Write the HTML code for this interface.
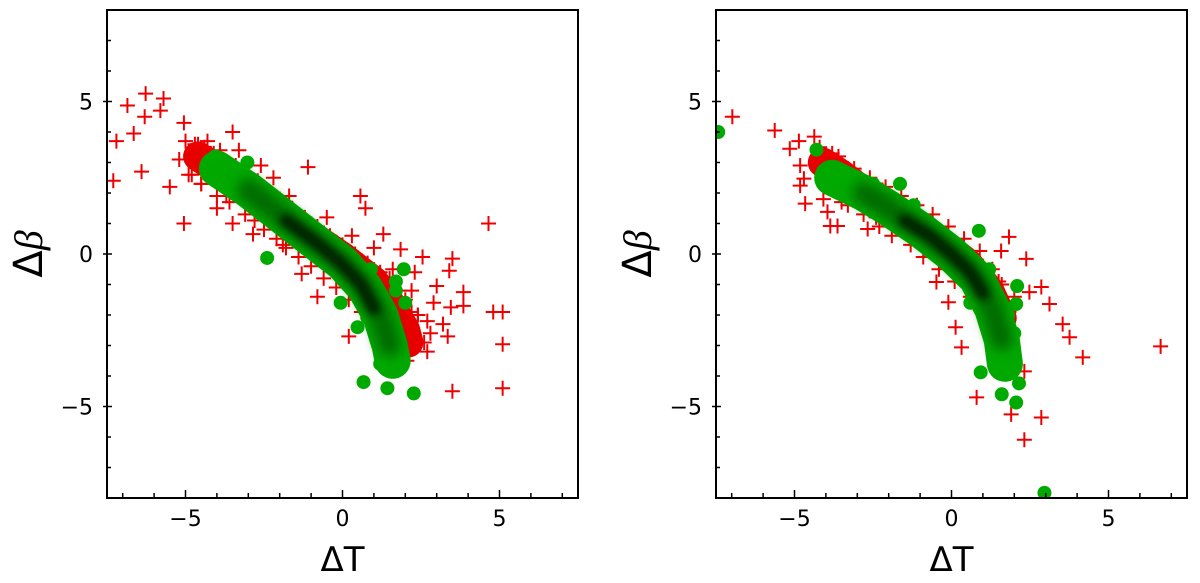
<!DOCTYPE html>
<html><head><meta charset="utf-8"><style>
html,body{margin:0;padding:0;background:#fff;}
svg{display:block;}
text{font-family:"DejaVu Sans","Liberation Sans",sans-serif;fill:#000;}
</style></head><body>
<svg id="chart" width="1200" height="583" viewBox="0 0 1200 583" xmlns="http://www.w3.org/2000/svg">
<defs>
<filter id="blur1" x="-20%" y="-20%" width="140%" height="140%"><feGaussianBlur stdDeviation="4"/></filter>
<filter id="blur2" x="-20%" y="-20%" width="140%" height="140%"><feGaussianBlur stdDeviation="6"/></filter>
</defs>
</svg>
<script>
// ---------- data: left panel ----------
const leftRedX=[-6.27,-6.85,-5.7,-5.8,-6.3,-7.2,-6.65,-7.3,-6.4,-5.05,-5.05,-3.5,-5.5,-1.1,0.57,0.73,4.65,3.5,3.4,3.85,3.85,4.8,5.1,5.1,5.1,3.5,2.7,3.35,2.8,0.2,-0.8,-1.3,3.0,3.45,2.55,1.3,1.85,2.05,-4.0,-3.5,-2.85,-4.6,-4.3,-3.9,-3.3,-2.6,-2.2,-1.7,-0.5,0.3,1.0,1.6,2.2,2.4,2.6,-5.2,-4.8,-4.5,-3.7,-1.9,2.3,1.8,3.2,-2.4,-3.2,-4.2,
 -5.0,-4.7,-4.4,-4.1,-3.8,-3.4,-3.0,-2.7,-2.3,-2.0,-1.6,-1.2,-0.8,-0.4,0.0,0.4,0.8,1.2,1.5,1.8,2.0,2.2,
 -4.9,-4.5,-4.0,-3.6,-3.1,-2.8,-2.5,-2.1,-1.8,-1.4,-1.0,-0.6,-0.2,0.2,0.6,0.9,1.1,1.3,1.6,1.9,2.1,2.4,2.7,2.9];
const leftRedY=[5.26,4.87,5.1,4.7,4.5,3.7,3.95,2.4,2.7,1.0,4.3,4.0,2.2,2.85,1.9,1.5,1.0,-0.15,-0.55,-1.25,-1.7,-1.9,-1.9,-2.96,-4.4,-4.5,-3.2,-2.7,-2.6,-2.7,-1.4,-0.65,-1.05,-1.75,-0.1,0.65,0.15,-3.5,1.5,1.0,0.65,3.6,3.7,3.4,3.4,2.9,2.5,1.9,1.2,0.6,0.2,-0.5,-1.2,-2.0,-2.9,3.1,2.6,2.3,1.9,0.3,-0.6,-2.2,-2.3,1.6,2.4,3.3,
 3.7,3.6,3.5,3.3,3.1,2.9,2.6,2.4,2.0,1.8,1.5,1.2,0.9,0.6,0.3,0.0,-0.3,-0.6,-0.8,-1.2,-1.5,-1.9,
 2.6,2.3,1.9,1.7,1.3,1.1,0.8,0.5,0.2,-0.1,-0.4,-0.8,-1.1,-1.5,-1.9,-2.2,-2.6,-2.9,-3.3,-3.0,-2.4,-2.0,-2.2,-1.6];
const leftGreenX=[-2.4,0.67,1.43,2.27,-0.06,1.95,0.48,-3.03,-4.05,1.7,1.5,1.2,-3.7,-2.8,-1.9,-1.1,-0.3,0.9,1.7,2.0,1.3,0.8];
const leftGreenY=[-0.13,-4.2,-4.4,-4.57,-1.6,-0.5,-2.4,3.0,3.2,-1.2,-3.2,-3.6,2.2,1.9,1.5,0.9,0.0,-0.5,-0.9,-1.6,-2.9,-2.1];
const leftRedBandX=[-4.6,-4,-3,-2,-1,0,1,1.5,2,2.1];
const leftRedBandY=[3.2,2.8,2.1,1.3,0.6,-0.1,-0.9,-1.6,-2.5,-2.9];
const leftGreenBandX=[-4.0,-3,-2,-1,0,0.7,1.2,1.5,1.6];
const leftGreenBandY=[2.8,2.1,1.3,0.5,-0.3,-1.1,-2.0,-3.0,-3.5];
const leftCoreX=[-1.8,-0.8,0,0.6,1.0];
const leftCoreY=[1.1,0.35,-0.35,-1.0,-1.8];
// ---------- data: right panel ----------
const rightRedX=[-6.98,-5.63,-5.15,-4.86,-4.37,-4.82,-4.7,-4.82,-4.66,-4.08,-3.95,-3.86,-3.63,-2.67,1.83,2.38,1.58,2.86,3.12,2.48,3.54,3.76,4.18,6.66,2.32,2.86,2.32,1.9,0.8,0.13,0.32,-0.1,-0.48,1.83,-4.2,-3.8,-3.3,-2.9,-2.2,-1.5,-0.8,0.2,1.0,1.5,2.0,-3.5,-2.4,
 -3.6,-3.1,-2.6,-2.1,-1.6,-1.1,-0.6,-0.1,0.4,0.9,1.3,1.6,-3.3,-2.8,-2.3,-1.9,-1.3,-0.9,-0.4,0.1,0.6];
const rightRedY=[4.5,4.05,3.45,3.7,3.85,2.9,2.47,2.24,1.65,1.8,1.38,0.92,0.92,0.82,0.56,-0.16,0.1,-1.08,-1.64,-1.25,-2.3,-2.73,-3.39,-3.03,-3.85,-5.36,-6.09,-5.26,-4.7,-2.4,-3.06,-1.58,-0.92,-1.9,3.5,3.3,2.8,2.5,2.1,1.6,0.9,0.3,-0.4,-0.9,-1.4,1.7,1.2,
 3.2,2.8,2.5,2.2,1.9,1.6,1.3,0.9,0.5,0.1,-0.5,-1.0,1.6,1.3,0.9,0.6,0.3,-0.1,-0.5,-0.9,-1.4];
const rightGreenX=[-7.43,2.96,-4.3,2.06,2.15,1.6,0.93,2.09,2.06,0.87,-1.64,-3.95,-3.4,-2.5,-1.2,0.2,1.2,1.8,1.5,0.6,2.0];
const rightGreenY=[4.0,-7.83,3.42,-4.87,-4.24,-4.6,-3.88,-1.05,-1.64,0.76,2.3,2.63,2.6,2.3,1.6,0.3,-0.5,-2.0,-3.3,-1.6,-2.6];
const rightRedBandX=[-4.1,-3.5,-2.5,-1.5,-0.5,0.5,1.2,1.6];
const rightRedBandY=[3.0,2.6,1.8,1.2,0.5,-0.3,-1.2,-2.1];
const rightGreenBandX=[-3.8,-2.8,-2,-1,0,0.8,1.3,1.6,1.7];
const rightGreenBandY=[2.5,2.0,1.5,0.8,0,-0.8,-1.8,-2.8,-3.6];
const rightCoreX=[-1.5,-0.7,0,0.6,1.0];
const rightCoreY=[1.1,0.6,0,-0.6,-1.3];
// ---------- axis config ----------
const xTicks=[-5,0,5];
const yTicks=[-5,0,5];
const xMin=-7.5,xMax=7.5,yMin=-8,yMax=8;

const NS="http://www.w3.org/2000/svg";
const svg=document.getElementById('chart');
function mk(tag,attrs,parent){const e=document.createElementNS(NS,tag);for(const k in attrs)e.setAttribute(k,attrs[k]);(parent||svg).appendChild(e);return e;}

function panel(name,L,R,T,B,redX,redY,grX,grY,rbX,rbY,gbX,gbY,cX,cY){
  const g=mk('g',{});
  
  
  const sx=v=>L+(v-xMin)/(xMax-xMin)*(R-L);
  const sy=v=>B-(v-yMin)/(yMax-yMin)*(B-T);
  const clip=mk('clipPath',{id:name+'-clip'},g);
  mk('rect',{x:L,y:T,width:R-L,height:B-T},clip);
  const plot=mk('g',{'clip-path':'url(#'+name+'-clip)'},g);
  const pts=(xs,ys)=>xs.map((x,i)=>sx(x).toFixed(1)+','+sy(ys[i]).toFixed(1)).join(' ');
  const rb=mk('polyline',{points:pts(rbX,rbY),fill:'none',stroke:'#e60000','stroke-width':30,'stroke-linecap':'round','stroke-linejoin':'round'},plot);
  
  
  redX.forEach((x,i)=>{
    const cx=sx(x),cy=sy(redY[i]);
    const p=mk('path',{d:`M${cx-7.5},${cy}H${cx+7.5}M${cx},${cy-7.5}V${cy+7.5}`,stroke:'#ee0000','stroke-width':2,fill:'none'},plot);
    
    
  });
  const gb=mk('polyline',{points:pts(gbX,gbY),fill:'none',stroke:'#00a800','stroke-width':36,'stroke-linecap':'round','stroke-linejoin':'round'},plot);
  
  
  grX.forEach((x,i)=>{
    const c=mk('circle',{cx:sx(x),cy:sy(grY[i]),r:7,fill:'#00aa00'},plot);
    
    
  });
  mk('polyline',{points:pts(gbX.slice(1,-1),gbY.slice(1,-1)),fill:'none',stroke:'#006a00','stroke-width':22,'stroke-linecap':'round','stroke-linejoin':'round',filter:'url(#blur2)'},plot);
  const core=mk('polyline',{points:pts(cX,cY),fill:'none',stroke:'#002400','stroke-width':13,'stroke-linecap':'round','stroke-linejoin':'round',filter:'url(#blur1)'},plot);
  
  
  const fr=mk('rect',{x:L,y:T,width:R-L,height:B-T,fill:'none',stroke:'#000','stroke-width':2},g);
  
  
  for(let v=-7;v<=7;v++){
    const X=sx(v);
    mk('line',{x1:X,x2:X,y1:B,y2:B-(v%5===0?8:5),stroke:'#000','stroke-width':1.5},g);
  }
  for(let v=-7;v<=7;v++){
    const Y=sy(v);
    mk('line',{x1:L-(v%5===0?4:0),x2:L+(v%5===0?5:4),y1:Y,y2:Y,stroke:'#000','stroke-width':1.5},g);
  }
  xTicks.forEach(v=>{
    const t=mk('text',{x:sx(v),y:B+28,'text-anchor':'middle','font-size':22},g);
    t.textContent=v<0?'\u2212'+Math.abs(v):String(v);
    
    
  });
  yTicks.forEach(v=>{
    const t=mk('text',{x:L-14,y:sy(v)+8,'text-anchor':'end','font-size':22},g);
    t.textContent=v<0?'\u2212'+Math.abs(v):String(v);
    
    
  });
  const xl=mk('text',{x:(L+R)/2,y:571,'text-anchor':'middle','font-size':34},g);
  xl.textContent='\u0394T';
  
  
  const yl=mk('text',{x:0,y:0,'text-anchor':'middle','font-size':40,transform:`translate(${L-65},${(T+B)/2}) rotate(-90)`},g);
  yl.innerHTML='\u0394<tspan font-family="Liberation Serif, serif" font-style="italic">\u03b2</tspan>';
  
  
}
panel('left-panel',107,578,10,498,leftRedX,leftRedY,leftGreenX,leftGreenY,leftRedBandX,leftRedBandY,leftGreenBandX,leftGreenBandY,leftCoreX,leftCoreY);
panel('right-panel',716,1187,10,498,rightRedX,rightRedY,rightGreenX,rightGreenY,rightRedBandX,rightRedBandY,rightGreenBandX,rightGreenBandY,rightCoreX,rightCoreY);
</script>
</body></html>
